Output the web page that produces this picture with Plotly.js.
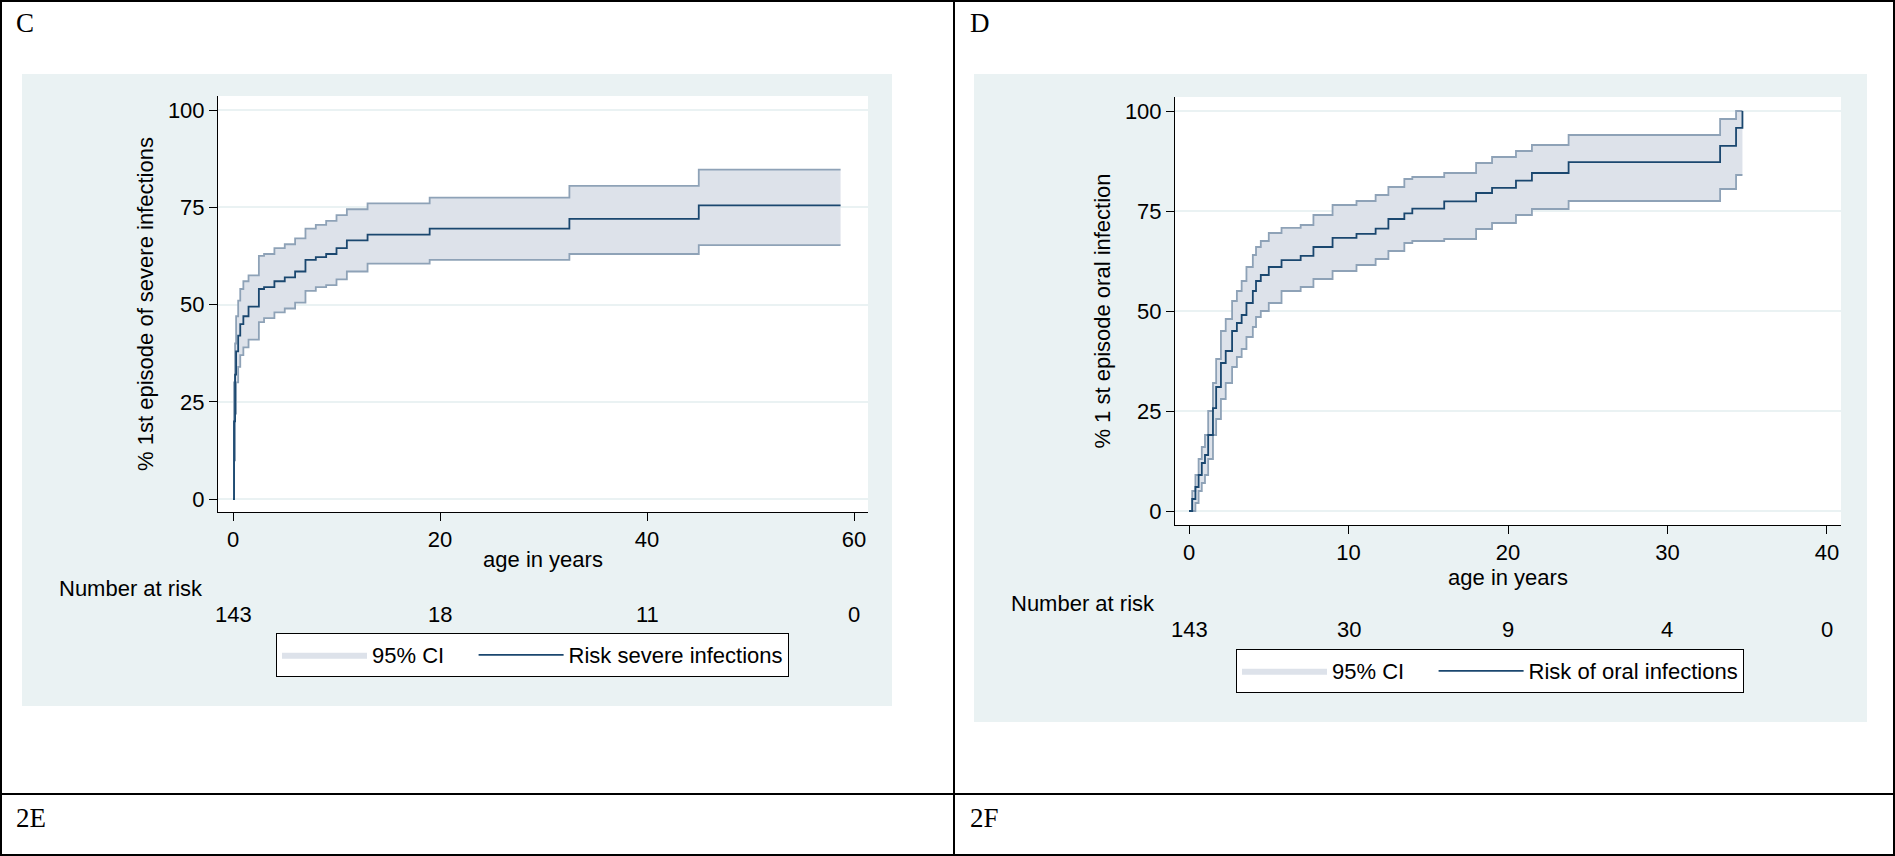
<!DOCTYPE html>
<html>
<head>
<meta charset="utf-8">
<script src="https://cdn.plot.ly/plotly-3.0.1.min.js"></script>
<style>html,body{margin:0;padding:0;background:white;}</style>
</head>
<body>
<div id="chart" style="width:1895px;height:856px;"></div>
<script>
// Panel C: severe infections
const sevX = [0, 0.1, 0.2, 0.3, 0.5, 0.7, 1, 1.5, 2.5, 3, 4, 5, 6, 7, 8, 9, 10, 11, 13, 19, 32.5, 45, 58.7];
const sevMean = [0, 20, 32, 38, 42, 45, 47, 49.5, 54, 54.5, 56, 57, 58.5, 61.5, 62.2, 63, 64.5, 66.5, 68, 69.5, 72, 75.5, 75.5];
const sevUpper = [0, 30, 40, 47, 51, 54, 56, 57.5, 62.5, 63, 64.5, 65.5, 67, 69.5, 70.5, 71.5, 73, 74.5, 76, 77.5, 80.5, 84.7, 84.7];
const sevLower = [0, 10, 22, 30, 34, 37, 39, 41, 45.5, 46.5, 48, 49, 50.5, 53.5, 54.5, 55, 56.5, 58.5, 60.5, 61.5, 63, 65.3, 65.3];
const sevRiskAt = [0, 20, 40, 60];
const sevRisk = ['143', '18', '11', '0'];

// Panel D: oral infections
const oralX = [0, 0.2, 0.4, 0.6, 0.8, 1, 1.2, 1.5, 1.7, 2, 2.3, 2.7, 3, 3.3, 3.6, 4, 4.2, 4.5, 5, 5.8, 7, 7.8, 9, 10.5, 11.7, 12.5, 13.5, 14, 16, 18, 19, 20.5, 21.5, 23.8, 33.3, 34.3, 34.7];
const oralMean = [0, 3, 6, 9, 12, 14, 19, 25.7, 31, 37, 40, 45, 47, 49, 52, 55, 57.5, 59, 61, 62.7, 63.8, 66, 68.3, 69.3, 70.6, 73, 74.4, 75.6, 77.4, 79.5, 80.8, 82.6, 84.5, 87.2, 91.3, 95.8, 100];
const oralUpper = [0, 5, 9, 13, 16, 19, 25, 32, 38, 45, 48, 52.5, 55, 57.5, 61, 64, 66, 67.5, 69.5, 70.8, 71.5, 74, 76.5, 77.5, 79, 81, 83, 83.5, 84.5, 87, 88.5, 90, 91.5, 94, 98, 100, 100];
const oralLower = [0, 0, 2, 5, 7, 9, 13, 19, 23, 28, 32, 36, 38.5, 40.5, 43.5, 46, 48.5, 50, 52, 55, 56, 58, 60, 61.5, 63, 65, 67, 67.5, 68, 70.5, 72, 74, 75.5, 77.5, 80.5, 84, 84];
const oralRiskAt = [0, 10, 20, 30, 40];
const oralRisk = ['143', '30', '9', '4', '0'];

const W = 1895, H = 856;
const px = v => v / W;
const py = v => 1 - v / H;

const navy = '#1a476f';
const ciLine = '#8ea2b7';
const ciFill = '#dde2ea';
const bg = '#eaf2f3';

function bandTraces(xs, lo, up, mean, xa, ya, lg, meanName) {
  return [
    { x: xs, y: lo, xaxis: xa, yaxis: ya, mode: 'lines', line: { shape: 'hv', color: ciLine, width: 1.8 }, showlegend: false, hoverinfo: 'skip' },
    { x: xs, y: up, xaxis: xa, yaxis: ya, mode: 'lines', line: { shape: 'hv', width: 0 }, fill: 'tonexty', fillcolor: ciFill, name: '95% CI&nbsp;&nbsp;&nbsp;&nbsp;', legend: lg, hoverinfo: 'skip' },
    { x: xs, y: up, xaxis: xa, yaxis: ya, mode: 'lines', line: { shape: 'hv', color: ciLine, width: 1.8 }, showlegend: false, hoverinfo: 'skip' },
    { x: xs, y: mean, xaxis: xa, yaxis: ya, mode: 'lines', line: { shape: 'hv', color: navy, width: 1.8 }, name: meanName, legend: lg }
  ];
}

const data = bandTraces(sevX, sevLower, sevUpper, sevMean, 'x', 'y', 'legend', 'Risk severe infections')
  .concat(bandTraces(oralX, oralLower, oralUpper, oralMean, 'x2', 'y2', 'legend2', 'Risk of oral infections'));

const font = { family: 'Liberation Sans, Arial, sans-serif', size: 22, color: 'black' };
const axisCommon = {
  showline: true, linecolor: 'black', linewidth: 1, ticks: 'outside', ticklen: 8,
  tickcolor: 'black', zeroline: false, tickfont: font, mirror: false
};

const layout = {
  width: W, height: H,
  margin: { l: 0, r: 0, t: 0, b: 0 },
  paper_bgcolor: 'white', plot_bgcolor: 'white',
  font: font,
  xaxis: Object.assign({}, axisCommon, {
    domain: [px(218), px(868)], range: [-1.45, 61.35], tickvals: [0, 20, 40, 60], showgrid: false,
    anchor: 'y', title: { text: 'age in years', font: font, standoff: 0 }
  }),
  yaxis: Object.assign({}, axisCommon, {
    domain: [py(512), py(96)], range: [-3.3, 103.6], tickvals: [0, 25, 50, 75, 100],
    showgrid: true, gridcolor: bg, gridwidth: 2, anchor: 'x',
    title: { text: '% 1st episode of severe infections', font: font, standoff: 8 }
  }),
  xaxis2: Object.assign({}, axisCommon, {
    domain: [px(1175), px(1841)], range: [-0.88, 40.88], tickvals: [0, 10, 20, 30, 40], showgrid: false,
    anchor: 'y2', title: { text: 'age in years', font: font, standoff: 0 }
  }),
  yaxis2: Object.assign({}, axisCommon, {
    domain: [py(525), py(97)], range: [-3.5, 103.5], tickvals: [0, 25, 50, 75, 100],
    showgrid: true, gridcolor: bg, gridwidth: 2, anchor: 'x2',
    title: { text: '% 1 st episode oral infection', font: font, standoff: 8 }
  }),
  legend: {
    orientation: 'h', x: px(276), y: py(633), xanchor: 'left', yanchor: 'top',
    bgcolor: 'white', bordercolor: 'black', borderwidth: 1, font: font, itemwidth: 85,
    traceorder: 'normal'
  },
  legend2: {
    orientation: 'h', x: px(1236), y: py(649), xanchor: 'left', yanchor: 'top',
    bgcolor: 'white', bordercolor: 'black', borderwidth: 1, font: font, itemwidth: 85,
    traceorder: 'normal'
  },
  shapes: [
    { type: 'rect', xref: 'paper', yref: 'paper', x0: px(22), x1: px(892), y0: py(706), y1: py(74), fillcolor: bg, line: { width: 0 }, layer: 'below' },
    { type: 'rect', xref: 'paper', yref: 'paper', x0: px(974), x1: px(1867), y0: py(722), y1: py(74), fillcolor: bg, line: { width: 0 }, layer: 'below' },
    { type: 'rect', xref: 'paper', yref: 'paper', x0: px(218), x1: px(868), y0: py(512), y1: py(96), fillcolor: 'white', line: { width: 0 }, layer: 'below' },
    { type: 'rect', xref: 'paper', yref: 'paper', x0: px(1175), x1: px(1841), y0: py(525), y1: py(97), fillcolor: 'white', line: { width: 0 }, layer: 'below' },
    // page table frame
    { type: 'rect', xref: 'paper', yref: 'paper', x0: px(1), x1: px(1894), y0: py(855), y1: py(1), line: { color: 'black', width: 2 } },
    { type: 'line', xref: 'paper', yref: 'paper', x0: px(954), x1: px(954), y0: 0, y1: 1, line: { color: 'black', width: 2 } },
    { type: 'line', xref: 'paper', yref: 'paper', x0: 0, x1: 1, y0: py(794), y1: py(794), line: { color: 'black', width: 2 } }
  ],
  annotations: []
};

const serif = { family: 'Liberation Serif, Times New Roman, serif', size: 27, color: 'black' };
[['C', 14, 23], ['D', 968, 23], ['2E', 14, 818], ['2F', 968, 818]].forEach(function (p) {
  layout.annotations.push({ text: p[0], xref: 'paper', yref: 'paper', x: px(p[1]), y: py(p[2]), xanchor: 'left', yanchor: 'middle', showarrow: false, font: serif });
});

layout.annotations.push({ text: 'Number at risk', xref: 'paper', yref: 'paper', x: px(57), y: py(588), xanchor: 'left', yanchor: 'middle', showarrow: false, font: font });
layout.annotations.push({ text: 'Number at risk', xref: 'paper', yref: 'paper', x: px(1009), y: py(603), xanchor: 'left', yanchor: 'middle', showarrow: false, font: font });
sevRiskAt.forEach(function (t, i) {
  layout.annotations.push({ text: sevRisk[i], xref: 'x', yref: 'paper', x: t, y: py(614), yanchor: 'middle', showarrow: false, font: font });
});
oralRiskAt.forEach(function (t, i) {
  layout.annotations.push({ text: oralRisk[i], xref: 'x2', yref: 'paper', x: t, y: py(629), yanchor: 'middle', showarrow: false, font: font });
});

Plotly.newPlot('chart', data, layout, { displayModeBar: false, staticPlot: true });
</script>
</body>
</html>
